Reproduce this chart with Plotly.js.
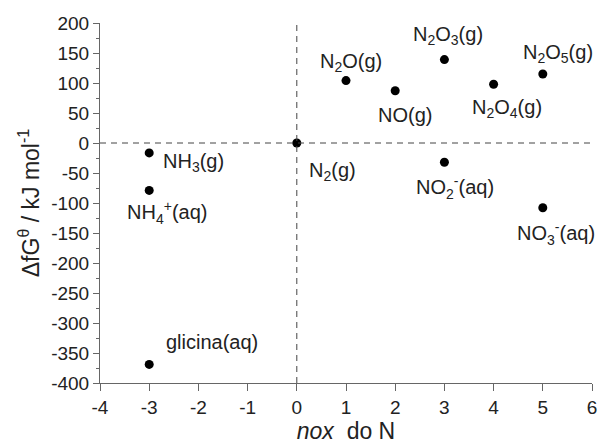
<!DOCTYPE html>
<html><head><meta charset="utf-8">
<script src="https://cdn.plot.ly/plotly-3.0.1.min.js"></script>
<style>html,body{margin:0;padding:0;background:#fff}</style>
</head><body>
<div id="chart" style="width:598px;height:444px"></div>
<script>
const oxidationStates = [-3, -3, -3, 0, 1, 2, 3, 4, 5, 3, 5];
const deltaG = [-16.5, -79, -369, 0, 104, 87, 139, 98, 115, -32, -108];
const species = ['NH<sub>3</sub>(g)', 'NH<sub>4</sub><sup>+</sup>(aq)', 'glicina(aq)', 'N<sub>2</sub>(g)',
  'N<sub>2</sub>O(g)', 'NO(g)', 'N<sub>2</sub>O<sub>3</sub>(g)', 'N<sub>2</sub>O<sub>4</sub>(g)',
  'N<sub>2</sub>O<sub>5</sub>(g)', 'NO<sub>2</sub><sup>-</sup>(aq)', 'NO<sub>3</sub><sup>-</sup>(aq)'];
const xTicks = [-4, -3, -2, -1, 0, 1, 2, 3, 4, 5, 6];
const yTicks = [-400, -350, -300, -250, -200, -150, -100, -50, 0, 50, 100, 150, 200];

// label offsets (pixels) relative to each point
const labelDx = [44, 18, 63, 36, 5, 10, 4, 13, 15, 11, 13];
const labelDy = [10, 22, -22, 28, -18, 24, -24, 24, -21, 25, 26];

const font = 'Liberation Sans, Arial, sans-serif';
const trace = {
  x: oxidationStates, y: deltaG, mode: 'markers', type: 'scatter',
  marker: {color: '#000', size: 9}, hoverinfo: 'skip', cliponaxis: false
};
const annotations = species.map((s, i) => ({
  x: oxidationStates[i], y: deltaG[i], xref: 'x', yref: 'y', text: s,
  showarrow: true, arrowcolor: 'rgba(0,0,0,0)', arrowwidth: 0.1, arrowhead: 0,
  ax: labelDx[i], ay: labelDy[i], font: {family: font, size: 20, color: '#222'}
}));
const layout = {
  width: 598, height: 444,
  margin: {l: 100, r: 6, t: 23, b: 61},
  paper_bgcolor: '#fff', plot_bgcolor: '#fff',
  showlegend: false,
  font: {family: font, color: '#222', size: 19},
  xaxis: {
    range: [-4, 6], tickvals: xTicks, ticktext: xTicks.map(String),
    showgrid: false, zeroline: false, showline: true, linecolor: '#666', linewidth: 1,
    ticks: 'outside', ticklen: 7, tickcolor: '#666', ticklabeloverflow: 'allow',
    tickfont: {family: font, size: 19, color: '#222'},
    title: {text: '<i>nox</i>  do N', font: {family: font, size: 23, color: '#222'}, standoff: 5}
  },
  yaxis: {
    range: [-400, 200], tickvals: yTicks, ticktext: yTicks.map(String),
    showgrid: false, zeroline: false, showline: true, linecolor: '#666', linewidth: 1,
    ticks: 'outside', ticklen: 6, tickcolor: '#666', ticklabeloverflow: 'allow',
    minor: {dtick: 25, ticks: 'outside', ticklen: 3, tickcolor: '#666', showgrid: false},
    tickfont: {family: font, size: 19, color: '#222'},
    title: {text: '\u0394fG<sup>\u03b8</sup> / kJ mol<sup>-1</sup>', font: {family: font, size: 23, color: '#222'}, standoff: 5}
  },
  shapes: [
    {type: 'line', xref: 'paper', yref: 'y', x0: 0, x1: 1, y0: 0, y1: 0, line: {color: '#444', width: 1, dash: '6px,5px'}},
    {type: 'line', xref: 'x', yref: 'paper', x0: 0, x1: 0, y0: 0, y1: 1, line: {color: '#444', width: 1, dash: '6px,5px'}}
  ],
  annotations: annotations
};
Plotly.newPlot('chart', [trace], layout, {displayModeBar: false, staticPlot: true});
</script>
</body></html>
